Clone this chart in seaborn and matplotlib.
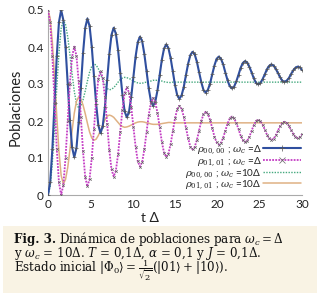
import numpy as np
import matplotlib
matplotlib.use("Agg")
import matplotlib.pyplot as plt
import seaborn as sns
from matplotlib.patches import Rectangle

# ---------------- data ----------------
t = np.linspace(0, 30, 117)

rho00_wc1 = [
    0.000, 0.034, 0.125, 0.250, 0.375, 0.467, 0.500,
    0.473, 0.400, 0.301, 0.202, 0.129, 0.102,
    0.127, 0.196, 0.290, 0.383, 0.452, 0.477,
    0.456, 0.400, 0.322, 0.245, 0.188, 0.167,
    0.186, 0.238, 0.310, 0.381, 0.433, 0.452,
    0.436, 0.392, 0.331, 0.271, 0.226, 0.210,
    0.225, 0.265, 0.319, 0.374, 0.413, 0.428,
    0.416, 0.381, 0.335, 0.288, 0.254, 0.241,
    0.252, 0.283, 0.324, 0.366, 0.396, 0.407,
    0.397, 0.370, 0.334, 0.297, 0.270, 0.260,
    0.269, 0.292, 0.324, 0.355, 0.378, 0.387,
    0.380, 0.360, 0.332, 0.305, 0.284, 0.277,
    0.284, 0.301, 0.326, 0.350, 0.368, 0.374,
    0.368, 0.353, 0.331, 0.310, 0.294, 0.288,
    0.293, 0.307, 0.325, 0.344, 0.357, 0.362,
    0.358, 0.346, 0.331, 0.315, 0.303, 0.299,
    0.303, 0.313, 0.326, 0.340, 0.349, 0.353,
    0.350, 0.341, 0.330, 0.318, 0.309, 0.306,
    0.309, 0.316, 0.327, 0.337, 0.344, 0.347,
    0.345, 0.338]

rho01_wc1 = [
    0.500, 0.467, 0.375, 0.250, 0.125, 0.034, 0.000,
    0.027, 0.100, 0.201, 0.301, 0.374, 0.401,
    0.376, 0.307, 0.212, 0.118, 0.048, 0.023,
    0.044, 0.101, 0.179, 0.257, 0.314, 0.335,
    0.316, 0.264, 0.193, 0.121, 0.069, 0.050,
    0.066, 0.110, 0.171, 0.231, 0.275, 0.291,
    0.277, 0.238, 0.184, 0.131, 0.091, 0.077,
    0.089, 0.123, 0.170, 0.216, 0.250, 0.262,
    0.251, 0.222, 0.183, 0.143, 0.114, 0.103,
    0.112, 0.138, 0.172, 0.207, 0.232, 0.241,
    0.233, 0.212, 0.182, 0.153, 0.131, 0.123,
    0.130, 0.149, 0.174, 0.200, 0.218, 0.225,
    0.219, 0.203, 0.181, 0.158, 0.142, 0.136,
    0.141, 0.155, 0.174, 0.193, 0.207, 0.212,
    0.207, 0.195, 0.178, 0.160, 0.148, 0.143,
    0.147, 0.158, 0.174, 0.189, 0.200, 0.204,
    0.200, 0.190, 0.177, 0.163, 0.153, 0.149,
    0.152, 0.161, 0.174, 0.186, 0.195, 0.198,
    0.195, 0.187, 0.176, 0.165, 0.157, 0.154,
    0.157, 0.164]

rho00_wc10 = [
    0.000, 0.023, 0.089, 0.184, 0.289, 0.384, 0.450, 0.473,
    0.461, 0.428, 0.380, 0.328, 0.280, 0.247, 0.235,
    0.241, 0.257, 0.281, 0.308, 0.332, 0.348, 0.354,
    0.351, 0.341, 0.327, 0.311, 0.297, 0.288, 0.284,
    0.286, 0.290, 0.297, 0.305, 0.312, 0.316, 0.318,
    0.317, 0.315, 0.312, 0.308, 0.305, 0.303, 0.302,
    0.302, 0.304, 0.305, 0.307, 0.308, 0.310, 0.310,
    0.310, 0.309, 0.308, 0.306, 0.305, 0.304, 0.304,
    0.305, 0.305, 0.305, 0.305, 0.305, 0.305, 0.305, 0.305, 0.305, 0.305, 0.305, 0.305,
    0.305, 0.305, 0.305, 0.305, 0.305, 0.305, 0.305, 0.305, 0.305, 0.305, 0.305, 0.305,
    0.305, 0.305, 0.305, 0.305, 0.305, 0.305, 0.305, 0.305, 0.305, 0.305, 0.305, 0.305,
    0.305, 0.305, 0.305, 0.305, 0.305, 0.305, 0.305, 0.305, 0.305, 0.305, 0.305, 0.305,
    0.305, 0.305, 0.305, 0.305, 0.305, 0.305, 0.305, 0.305, 0.305, 0.305, 0.305, 0.305]

rho01_wc10 = [
    0.500, 0.477, 0.412, 0.317, 0.213, 0.118, 0.053, 0.030,
    0.042, 0.074, 0.121, 0.174, 0.221, 0.253, 0.265,
    0.259, 0.243, 0.220, 0.194, 0.170, 0.154, 0.148,
    0.151, 0.161, 0.175, 0.190, 0.203, 0.213, 0.216,
    0.214, 0.210, 0.203, 0.196, 0.189, 0.185, 0.183,
    0.184, 0.186, 0.189, 0.192, 0.195, 0.197, 0.198,
    0.198, 0.197, 0.195, 0.194, 0.192, 0.191, 0.191,
    0.191, 0.192, 0.193, 0.194, 0.195, 0.196, 0.196,
    0.195, 0.195, 0.195, 0.195, 0.195, 0.195, 0.195, 0.195, 0.195, 0.195, 0.195, 0.195,
    0.195, 0.195, 0.195, 0.195, 0.195, 0.195, 0.195, 0.195, 0.195, 0.195, 0.195, 0.195,
    0.195, 0.195, 0.195, 0.195, 0.195, 0.195, 0.195, 0.195, 0.195, 0.195, 0.195, 0.195,
    0.195, 0.195, 0.195, 0.195, 0.195, 0.195, 0.195, 0.195, 0.195, 0.195, 0.195, 0.195,
    0.195, 0.195, 0.195, 0.195, 0.195, 0.195, 0.195, 0.195, 0.195, 0.195, 0.195, 0.195]

labels = [r"$\rho_{00,00}$ ; $\omega_c$ =Δ",
          r"$\rho_{01,01}$ ; $\omega_c$ =Δ",
          r"$\rho_{00,00}$ ; $\omega_c$ =10Δ",
          r"$\rho_{01,01}$ ; $\omega_c$ =10Δ"]
xticks = [0, 5, 10, 15, 20, 25, 30]
yticks = [0, 0.1, 0.2, 0.3, 0.4, 0.5]
yticklabels = ["0", "0.1", "0.2", "0.3", "0.4", "0.5"]

# ---------------- style ----------------
sns.set_style("white")
plt.rcParams["font.family"] = ["Lato", "DejaVu Sans"]
plt.rcParams["mathtext.fontset"] = "dejavuserif"

fig = plt.figure(figsize=(3.2, 2.98), dpi=100)
fig.patch.set_facecolor("white")
ax = fig.add_axes([48/320, 103/298, 254/320, 185/298])

blue = "#2f4f9f"
magenta = "#c43cc4"
green = "#45a97f"
tan = "#dfb184"

sns.lineplot(x=t, y=rho00_wc10, ax=ax, color=green, linestyle=(0, (1, 1)),
             linewidth=1.0, label=labels[2], zorder=2)
sns.lineplot(x=t, y=rho01_wc10, ax=ax, color=tan, linewidth=1.1,
             label=labels[3], zorder=2)
sns.lineplot(x=t, y=rho00_wc1, ax=ax, color=blue, linewidth=1.5,
             marker="+", markersize=2.4, markeredgewidth=0.5,
             markeredgecolor="#555555", label=labels[0], zorder=3)
sns.lineplot(x=t, y=rho01_wc1, ax=ax, color=magenta, linestyle=(0, (1, 0.7)),
             linewidth=1.3, marker="x", markersize=1.8, markeredgewidth=0.5,
             markeredgecolor="#666666", label=labels[1], zorder=3)

ax.set_xlim(0, 30)
ax.set_ylim(0, 0.5)
ax.set_xticks(xticks)
ax.set_xticklabels([str(v) for v in xticks])
ax.set_yticks(yticks)
ax.set_yticklabels(yticklabels)
ax.tick_params(axis="both", labelsize=8.5, colors="#999999",
               labelcolor="#222222", direction="in", length=2, width=0.6, pad=3)
for s in ["top", "right"]:
    ax.spines[s].set_visible(False)
for s in ["left", "bottom"]:
    ax.spines[s].set_color("#aaaaaa")
    ax.spines[s].set_linewidth(0.8)

ax.set_ylabel("Poblaciones", fontsize=10.5, color="#222222")
ax.yaxis.set_label_coords(-0.10, 0.475)
ax.set_xlabel("t Δ", fontsize=10, color="#222222")
ax.xaxis.set_label_coords(0.40, -0.09)

h, l = ax.get_legend_handles_labels()
order = [l.index(x) for x in labels]
leg = ax.legend([h[i] for i in order], [l[i] for i in order],
                loc="lower right", bbox_to_anchor=(0.995, 0.02), frameon=False,
                prop={"size": 7.2}, markerfirst=False, handlelength=3.8,
                handletextpad=0.15, labelspacing=-0.1, borderpad=0,
                borderaxespad=0, numpoints=1)
for ln in leg.get_lines():
    ln.set_markersize(4)

# ---------------- caption ----------------
fig.patches.append(Rectangle((3/320, 5/298), 314/320, 67/298,
                             transform=fig.transFigure, facecolor="#f9f3e4",
                             edgecolor="none", zorder=0))
cap_font = ["DejaVu Serif"]
fs = 8.6
x0 = 14/320
y1 = 1 - 243/298
y2 = 1 - 257.5/298
y3 = 1 - 272/298
tb = fig.text(x0, y1, "Fig. 3.", fontsize=fs, fontweight="bold",
              family=cap_font, va="baseline", ha="left", color="#111111")
fig.canvas.draw()
r = fig.canvas.get_renderer()
bb = tb.get_window_extent(r)
fig.text(bb.x1/fig.bbox.width + 3/320, y1,
         r"Dinámica de poblaciones para $\omega_c = \Delta$",
         fontsize=fs, family=cap_font, va="baseline", ha="left", color="#111111")
fig.text(x0, y2, r"y $\omega_c$ = 10Δ. $T$ = 0,1Δ, $\alpha$ = 0,1 y $J$ = 0,1Δ.",
         fontsize=fs, family=cap_font, va="baseline", ha="left", color="#111111")
fig.text(x0, y3,
         r"Estado inicial $|\Phi_0\rangle = \frac{1}{\sqrt{2}}(|01\rangle + |10\rangle)$.",
         fontsize=fs, family=cap_font, va="baseline", ha="left", color="#111111")

fig.savefig("out.png", dpi=100)
